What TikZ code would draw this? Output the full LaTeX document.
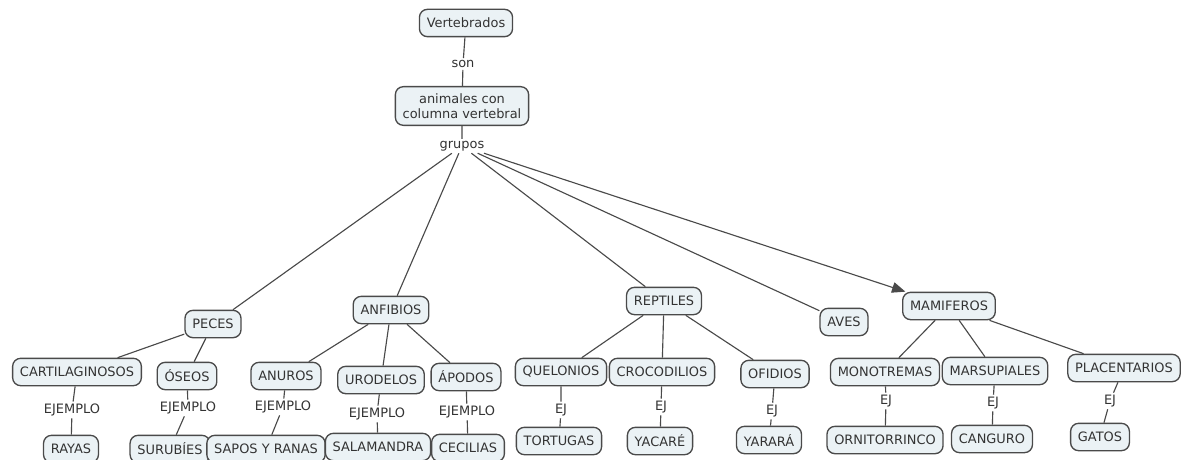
\documentclass[tikz,border=0pt]{standalone}
\usepackage{fontspec}
\setmainfont{DejaVu Sans}
\usetikzlibrary{arrows.meta}
\definecolor{boxfill}{HTML}{EBF2F5}
\definecolor{boxline}{HTML}{4A4A4A}
\definecolor{ink}{HTML}{333333}
\tikzset{
  concept/.style={draw=boxline,fill=boxfill,rounded corners=6pt,line width=1pt,
    minimum height=20.5pt,inner xsep=5.5pt,inner ysep=4pt,text=ink,font=\fontsize{9.7}{11.5}\selectfont,align=center},
  linkword/.style={inner sep=1.5pt,text=ink,font=\fontsize{9.7}{11.5}\selectfont},
  link/.style={draw=boxline,line width=.85pt}
}
\begin{document}
\begin{tikzpicture}[x=.75pt,y=-.75pt]
\clip (0,0) rectangle (1181,460);
\fill[white] (0,0) rectangle (1181,460);
% top of the map
\node[concept] (vert) at (466,23) {Vertebrados};
\node[linkword] (son) at (463,64) {son};
\node[concept,inner ysep=5pt] (anim) at (462,106) {animales con\\columna vertebral};
\node[linkword] (grupos) at (462,146) {grupos};
\draw[link] (vert)--(son)--(anim)--(grupos);
% groups
\node[concept] (peces) at (213,324) {PECES};
\node[concept] (anfi) at (391,310) {ANFIBIOS};
\node[concept] (rept) at (664,301) {REPTILES};
\node[concept] (aves) at (844,322) {AVES};
\node[concept] (mami) at (949,306) {MAMIFEROS};
\draw[link] (grupos)--(peces);\draw[link] (grupos)--(anfi);
\draw[link] (grupos)--(rept);\draw[link] (grupos)--(aves);
\draw[link,-{Triangle[length=10pt,width=8pt]}] (grupos)--(mami);
% peces
\node[concept] (cart) at (77,372) {CARTILAGINOSOS};
\node[concept] (oseos) at (187,376) {ÓSEOS};
\node[linkword] (ej1) at (72,410) {EJEMPLO};
\node[linkword] (ej2) at (188,408) {EJEMPLO};
\node[concept] (rayas) at (71,449) {RAYAS};
\node[concept] (surub) at (170,449) {SURUBÍES};
\draw[link] (peces)--(cart);\draw[link] (peces)--(oseos);
\draw[link] (cart)--(ej1)--(rayas);\draw[link] (oseos)--(ej2)--(surub);
% anfibios
\node[concept] (anuros) at (286,376) {ANUROS};
\node[concept] (urod) at (381,380) {URODELOS};
\node[concept] (apod) at (466,377) {ÁPODOS};
\node[linkword] (ej3) at (283,407) {EJEMPLO};
\node[linkword] (ej4) at (377,414) {EJEMPLO};
\node[linkword] (ej5) at (467,412) {EJEMPLO};
\node[concept] (sapos) at (266,449) {SAPOS Y RANAS};
\node[concept] (salam) at (378,447) {SALAMANDRA};
\node[concept] (cecil) at (468,448) {CECILIAS};
\draw[link] (anfi)--(anuros);\draw[link] (anfi)--(urod);\draw[link] (anfi)--(apod);
\draw[link] (anuros)--(ej3)--(sapos);\draw[link] (urod)--(ej4)--(salam);
\draw[link] (apod)--(ej5)--(cecil);
% reptiles
\node[concept] (quel) at (561,372) {QUELONIOS};
\node[concept] (croc) at (662,372) {CROCODILIOS};
\node[concept] (ofid) at (775,374) {OFIDIOS};
\node[linkword] (ej6) at (561,410) {EJ};
\node[linkword] (ej7) at (661,407) {EJ};
\node[linkword] (ej8) at (772,411) {EJ};
\node[concept] (tort) at (559,441) {TORTUGAS};
\node[concept] (yaca) at (660,441) {YACARÉ};
\node[concept] (yara) at (769,440) {YARARÁ};
\draw[link] (rept)--(quel);\draw[link] (rept)--(croc);\draw[link] (rept)--(ofid);
\draw[link] (quel)--(ej6)--(tort);\draw[link] (croc)--(ej7)--(yaca);
\draw[link] (ofid)--(ej8)--(yara);
% mamiferos
\node[concept] (mono) at (885,372) {MONOTREMAS};
\node[concept] (mars) at (995,371) {MARSUPIALES};
\node[concept] (plac) at (1124,368) {PLACENTARIOS};
\node[linkword] (ej9) at (886,401) {EJ};
\node[linkword] (ej10) at (993,403) {EJ};
\node[linkword] (ej11) at (1110,401) {EJ};
\node[concept] (orni) at (885,440) {ORNITORRINCO};
\node[concept] (cang) at (992,439) {CANGURO};
\node[concept] (gatos) at (1100,437) {GATOS};
\draw[link] (mami)--(mono);\draw[link] (mami)--(mars);\draw[link] (mami)--(plac);
\draw[link] (mono)--(ej9)--(orni);\draw[link] (mars)--(ej10)--(cang);
\draw[link] (plac)--(ej11)--(gatos);
\end{tikzpicture}
\end{document}
